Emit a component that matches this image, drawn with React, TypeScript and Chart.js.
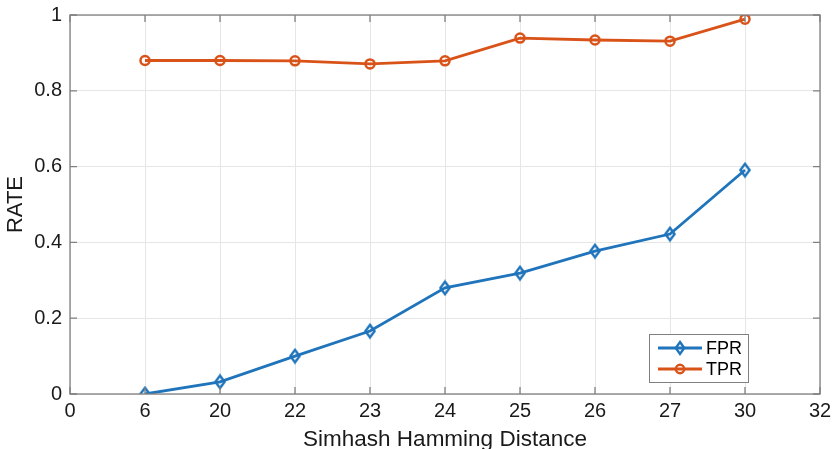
import React, { useEffect, useRef } from "react";
import { Chart, registerables } from "chart.js";

Chart.register(...registerables);

const tickLabels = ["0", "6", "20", "22", "23", "24", "25", "26", "27", "30", "32"];
const categories = ["6", "20", "22", "23", "24", "25", "26", "27", "30"];
const fprValues = [0.0, 0.032, 0.1, 0.166, 0.28, 0.319, 0.377, 0.422, 0.591];
const tprValues = [0.88, 0.88, 0.879, 0.871, 0.879, 0.939, 0.934, 0.931, 0.989];

const BLUE = "#1f74bb";
const ORANGE = "#D95319";
const FONT = "'Liberation Sans', Arial, sans-serif";

function diamondPath(ctx: CanvasRenderingContext2D, cx: number, cy: number, hw: number, hh: number) {
  ctx.beginPath();
  ctx.moveTo(cx, cy - hh);
  ctx.lineTo(cx + hw, cy);
  ctx.lineTo(cx, cy + hh);
  ctx.lineTo(cx - hw, cy);
  ctx.closePath();
}

function makeDiamond(color: string): HTMLCanvasElement {
  const c = document.createElement("canvas");
  c.width = 14;
  c.height = 17;
  const g = c.getContext("2d") as CanvasRenderingContext2D;
  g.strokeStyle = color;
  g.lineWidth = 2.4;
  g.lineJoin = "miter";
  diamondPath(g, 7, 8.5, 4.6, 6.2);
  g.stroke();
  return c;
}

const boxPlugin = {
  id: "matlabBox",
  afterDraw(chart: any) {
    const { ctx, chartArea } = chart;
    const { left, right, top, bottom } = chartArea;
    const xs = chart.scales.x;
    const ys = chart.scales.y;
    ctx.save();
    ctx.strokeStyle = "#808080";
    ctx.lineWidth = 1.3;
    ctx.strokeRect(left, top, right - left, bottom - top);
    ctx.beginPath();
    const tl = 7;
    for (let i = 0; i < tickLabels.length; i++) {
      const px = xs.getPixelForValue(i);
      ctx.moveTo(px, bottom);
      ctx.lineTo(px, bottom - tl);
      ctx.moveTo(px, top);
      ctx.lineTo(px, top + tl);
    }
    for (let v = 0; v <= 1.0001; v += 0.2) {
      const py = ys.getPixelForValue(v);
      ctx.moveTo(left, py);
      ctx.lineTo(left + tl, py);
      ctx.moveTo(right, py);
      ctx.lineTo(right - tl, py);
    }
    ctx.stroke();

    // legend
    const lx = 649, ly = 334, lw = 99, lh = 48;
    ctx.fillStyle = "#ffffff";
    ctx.fillRect(lx, ly, lw, lh);
    ctx.strokeStyle = "#808080";
    ctx.lineWidth = 1;
    ctx.strokeRect(lx + 0.5, ly + 0.5, lw, lh);
    const rows = [
      { label: "FPR", color: BLUE, style: "diamond", y: ly + 14 },
      { label: "TPR", color: ORANGE, style: "circle", y: ly + 35 },
    ];
    ctx.font = `18px ${FONT}`;
    ctx.textBaseline = "middle";
    for (const r of rows) {
      ctx.strokeStyle = r.color;
      ctx.lineWidth = 2.8;
      ctx.beginPath();
      ctx.moveTo(lx + 9, r.y);
      ctx.lineTo(lx + 53, r.y);
      ctx.stroke();
      const cx = lx + 31;
      ctx.lineWidth = 2.4;
      if (r.style === "circle") {
        ctx.beginPath();
        ctx.arc(cx, r.y, 4.2, 0, Math.PI * 2);
      } else {
        diamondPath(ctx, cx, r.y, 4.2, 6);
      }
      ctx.stroke();
      ctx.fillStyle = "#000000";
      ctx.fillText(r.label, lx + 57, r.y + 1);
    }
    ctx.restore();
  },
};

export default function App() {
  const ref = useRef<HTMLCanvasElement | null>(null);
  useEffect(() => {
    document.body.style.margin = "0";
    const toPts = (vals: number[]) =>
      vals.map((v, i) => ({ x: tickLabels.indexOf(categories[i]), y: v }));
    const chart = new Chart(ref.current as HTMLCanvasElement, {
      type: "line",
      data: {
        datasets: [
          {
            label: "FPR",
            data: toPts(fprValues),
            borderColor: BLUE,
            backgroundColor: "rgba(0,0,0,0)",
            borderWidth: 2.8,
            pointStyle: makeDiamond(BLUE),
            pointRadius: 6,
            pointBackgroundColor: "rgba(255,255,255,0)",
            pointBorderColor: BLUE,
          },
          {
            label: "TPR",
            data: toPts(tprValues),
            borderColor: ORANGE,
            backgroundColor: "rgba(0,0,0,0)",
            borderWidth: 2.8,
            pointStyle: "circle",
            pointRadius: 4.5,
            pointBorderWidth: 2.5,
            pointBackgroundColor: "rgba(255,255,255,0)",
            pointBorderColor: ORANGE,
          },
        ],
      },
      plugins: [boxPlugin],
      options: {
        animation: false,
        responsive: false,
        maintainAspectRatio: false,
        layout: { padding: { left: 0, right: 13, top: 15, bottom: 0 } },
        plugins: { legend: { display: false }, tooltip: { enabled: false } },
        scales: {
          x: {
            type: "linear",
            min: 0,
            max: tickLabels.length - 1,
            afterFit: (s: any) => {
              s.height = 55;
              s.paddingLeft = 0;
              s.paddingRight = 0;
            },
            afterBuildTicks: (s: any) => {
              s.ticks = tickLabels.map((_, i) => ({ value: i }));
            },
            ticks: {
              callback: (v: any) => tickLabels[Math.round(v)] ?? "",
              font: { family: FONT, size: 20 },
              color: "#1a1a1a",
              padding: 5,
              maxRotation: 0,
              autoSkip: false,
            },
            grid: { color: "#e6e6e6", drawTicks: false, lineWidth: 1 },
            border: { display: false },
            title: {
              display: true,
              text: "Simhash Hamming Distance",
              font: { family: FONT, size: 22.5, lineHeight: 0.8 },
              color: "#1a1a1a",
              padding: { top: 0, bottom: 0 },
            },
          },
          y: {
            min: 0,
            max: 1,
            afterFit: (s: any) => {
              s.width = 70;
              s.paddingTop = 0;
              s.paddingBottom = 0;
            },
            ticks: {
              stepSize: 0.2,
              callback: (v: any) => String(Number(Number(v).toFixed(1))),
              font: { family: FONT, size: 20 },
              color: "#1a1a1a",
              padding: 8,
            },
            grid: { color: "#e6e6e6", drawTicks: false, lineWidth: 1 },
            border: { display: false },
            title: {
              display: true,
              text: "RATE",
              font: { family: FONT, size: 22, lineHeight: 1.45 },
              color: "#1a1a1a",
              padding: { top: 0, bottom: 0 },
            },
          },
        },
      },
    } as any);
    return () => chart.destroy();
  }, []);
  return (
    <div style={{ width: 833, height: 449, background: "#fff" }}>
      <canvas ref={ref} width={833} height={449} style={{ display: "block" }} />
    </div>
  );
}
